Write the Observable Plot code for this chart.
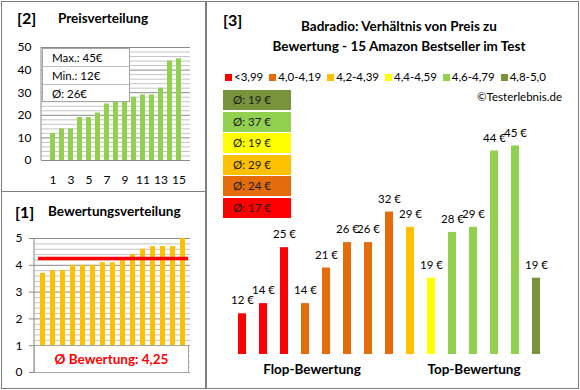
<!DOCTYPE html>
<html><head><meta charset="utf-8">
<script src="https://cdn.jsdelivr.net/npm/d3@7"></script>
<script src="https://cdn.jsdelivr.net/npm/@observablehq/plot@0.6"></script>
<style>
html,body{margin:0;padding:0;background:#fff;}
#root{position:relative;width:580px;height:390px;font-family:Lato,"Open Sans",sans-serif;color:#000;overflow:hidden;background:#fff;}
.abs{position:absolute;white-space:nowrap;}
.panel{position:absolute;border:1px solid #7f7f7f;box-sizing:border-box;}
.chart{position:absolute;}
.chart svg{overflow:visible;}
.b{font-weight:bold;}
</style></head><body><div id="root"></div>
<script>
// ---------------- data ----------------
const priceRanked = [12,14,14,19,19,21,25,26,26,28,29,29,32,44,45];
const ratingRanked = [3.7,3.8,3.8,4.0,4.0,4.0,4.1,4.1,4.2,4.4,4.6,4.7,4.7,4.7,5.0];
const productPrices = [12,14,25,14,21,26,26,32,29,19,28,29,44,45,19];
const productRatings = [3.7,3.8,3.8,4.0,4.0,4.0,4.1,4.1,4.2,4.4,4.6,4.7,4.7,4.7,5.0];
const ratingClasses = ["<3,99","4,0-4,19","4,2-4,39","4,4-4,59","4,6-4,79","4,8-5,0"];
const classLimits = [4.0,4.2,4.4,4.6,4.8];
const classColors = ["#FF0000","#E46C0A","#FFC000","#FFFF00","#92D050","#77933C"];
const rankTicks = [1,3,5,7,9,11,13,15];
const priceTicks = [0,10,20,30,40,50];
const ratingTicks = [0,1,2,3,4,5];
const panel2Title = ["[2]","Preisverteilung"];
const panel1Title = ["[1]","Bewertungsverteilung"];
const panel3Title = ["[3]","Badradio: Verhältnis von Preis zu","Bewertung - 15 Amazon Bestseller im Test"];
const groupLabels = ["Flop-Bewertung","Top-Bewertung"];
const copyright = "©Testerlebnis.de";

// ---------------- helpers ----------------
const FONT = 'Lato,"Open Sans",sans-serif';
const root = document.getElementById("root");
function el(cls, style, html){const d=document.createElement("div");d.className=cls;Object.assign(d.style,style);if(html!=null)d.innerHTML=html;root.appendChild(d);return d;}
function place(node,left,top){const w=el("chart",{left:left+"px",top:top+"px"});w.appendChild(node);return w;}
function leftLine(color){return (index,scales,values,dims)=>d3.create("svg:line")
  .attr("x1",dims.marginLeft).attr("x2",dims.marginLeft)
  .attr("y1",dims.marginTop).attr("y2",dims.height-dims.marginBottom)
  .attr("stroke",color).node();}
const classOf = r => {let k=0; while(k<classLimits.length && r>=classLimits[k]-1e-9) k++; return k;};
const intFmt = d3.format("d");

// ---------------- panel borders ----------------
el("panel",{left:"1px",top:"1px",width:"205px",height:"191px"});
el("panel",{left:"1px",top:"191px",width:"205px",height:"198px"});
el("panel",{left:"206px",top:"1px",width:"373px",height:"388px"});

// ---------------- panel [2] Preisverteilung ----------------
const priceData = priceRanked.map((p,i)=>({rank:i+1,price:p}));
const chartA = Plot.plot({
  width:205,height:191,marginLeft:41,marginRight:15,marginTop:47,marginBottom:31,
  style:{fontFamily:FONT,fontSize:"12px",background:"transparent",color:"#000"},
  x:{type:"band",domain:d3.range(1,16),padding:0.48,axis:null},
  y:{domain:[0,50],axis:null},
  marks:[
    Plot.ruleY(d3.range(0,51,2).filter(v=>v%10!==0),{stroke:"#c4c4c4"}),
    Plot.ruleY(priceTicks,{stroke:"#8a8a8a"}),
    leftLine("#8a8a8a"),
    Plot.barY(priceData,{x:"rank",y:"price",fill:"#92D050"}),
    Plot.axisY({ticks:priceTicks,tickSize:0,tickPadding:10,fontSize:12,label:null,tickFormat:intFmt}),
    Plot.axisX({ticks:rankTicks,tickSize:0,tickPadding:15,fontSize:12,label:null,tickFormat:intFmt})
  ]
});
place(chartA,0,0);
el("abs b",{left:"17px",top:"8px",fontSize:"16px"},panel2Title[0]);
el("abs b",{left:"58px",top:"10px",fontSize:"13.5px"},panel2Title[1]);
const statBox = el("abs",{left:"42px",top:"48px",width:"88px",height:"54px",background:"#fff",border:"1px solid #a6a6a6",boxSizing:"border-box",fontSize:"11.5px"});
[["Max.: ",d3.max(priceRanked)],["Min.: ",d3.min(priceRanked)],["Ø: ",Math.round(d3.mean(priceRanked))]].forEach((s,i)=>{
  const r=document.createElement("div");
  Object.assign(r.style,{height:"17.3px",lineHeight:"17.3px",paddingLeft:"9px",borderTop:i?"1px solid #bfbfbf":"none",boxSizing:"border-box"});
  r.textContent=s[0]+s[1]+"€";statBox.appendChild(r);
});

// ---------------- panel [1] Bewertungsverteilung ----------------
const ratingData = ratingRanked.map((r,i)=>({rank:i+1,rating:r}));
const meanRating = d3.mean(ratingRanked);
const chartB = Plot.plot({
  width:205,height:197,marginLeft:34,marginRight:15,marginTop:47,marginBottom:16,
  style:{fontFamily:FONT,fontSize:"12px",background:"transparent",color:"#000"},
  x:{type:"band",domain:d3.range(1,16),padding:0.5,axis:null},
  y:{domain:[0,5],axis:null},
  marks:[
    Plot.ruleY(d3.range(0,26).filter(i=>i%5!==0).map(i=>i/5),{stroke:"#c4c4c4"}),
    Plot.ruleY(ratingTicks,{stroke:"#8a8a8a"}),
    leftLine("#8a8a8a"),
    Plot.barY(ratingData,{x:"rank",y:"rating",fill:"#FFC000"}),
    Plot.ruleY([meanRating],{stroke:"#FF0000",strokeWidth:3.5,insetLeft:4,insetRight:2}),
    Plot.axisY({ticks:ratingTicks,tickSize:5,tickPadding:7,stroke:"#8a8a8a",fontSize:12,label:null,tickFormat:intFmt})
  ]
});
place(chartB,0,191);
el("abs b",{left:"15px",top:"202px",fontSize:"16px"},panel1Title[0]);
el("abs b",{left:"48px",top:"203px",fontSize:"13.5px"},panel1Title[1]);
el("abs b",{left:"34px",top:"345px",width:"155px",height:"28px",lineHeight:"27px",background:"#fff",border:"1px solid #a6a6a6",boxSizing:"border-box",textAlign:"center",color:"#FF0000",fontSize:"13.5px"},
  "Ø Bewertung: "+d3.format(".2f")(meanRating).replace(".",","));

// ---------------- panel [3] Preis vs Bewertung ----------------
const products = productPrices.map((p,i)=>({i,price:p,cls:ratingClasses[classOf(productRatings[i])]}));
const chartC = Plot.plot({
  width:372,height:388,marginLeft:15,marginRight:20,marginTop:120,marginBottom:34,
  style:{fontFamily:FONT,fontSize:"11.5px",background:"transparent",color:"#000"},
  x:{type:"band",domain:d3.range(15),padding:0.6,axis:null},
  y:{domain:[4,50],axis:null},
  color:{domain:ratingClasses,range:classColors},
  marks:[
    Plot.barY(products,{x:"i",y:"price",fill:"cls",clip:true}),
    Plot.text(products,{x:"i",y:"price",text:d=>d.price+" €",dy:-13,fontSize:11.5,fill:"#000"})
  ]
});
place(chartC,206,0);
el("abs b",{left:"223px",top:"10px",fontSize:"16px"},panel3Title[0]);
el("abs b",{left:"250px",top:"16px",width:"298px",textAlign:"center",fontSize:"13.5px",lineHeight:"20px"},panel3Title[1]+"<br>"+panel3Title[2]);
// legend
const leg = el("abs",{left:"225px",top:"69px",display:"flex",gap:"6px",fontSize:"11.5px",lineHeight:"16px"});
ratingClasses.forEach((c,k)=>{
  const it=document.createElement("div");it.style.display="flex";it.style.alignItems="center";
  const sw=document.createElement("span");Object.assign(sw.style,{display:"inline-block",width:"7px",height:"7px",background:classColors[k],marginRight:"2px"});
  const tx=document.createElement("span");tx.textContent=c;
  it.appendChild(sw);it.appendChild(tx);leg.appendChild(it);
});
el("abs",{left:"440px",top:"90px",width:"122px",textAlign:"right",fontSize:"11.5px"},copyright);
// class average boxes (top: best class)
const classMeans = ratingClasses.map(c=>Math.round(d3.mean(products.filter(p=>p.cls===c),p=>p.price)));
ratingClasses.map((c,k)=>k).reverse().forEach((k,row)=>{
  el("abs",{left:"223px",top:(90+row*21.6)+"px",width:"68px",height:"20px",lineHeight:"20px",background:classColors[k],paddingLeft:"10px",boxSizing:"border-box",fontSize:"11.5px",color:"#1a1a1a"},"Ø: "+classMeans[k]+" €");
});
el("abs b",{left:"232px",top:"361px",width:"160px",textAlign:"center",fontSize:"13.5px"},groupLabels[0]);
el("abs b",{left:"394px",top:"361px",width:"160px",textAlign:"center",fontSize:"13.5px"},groupLabels[1]);
</script></body></html>
